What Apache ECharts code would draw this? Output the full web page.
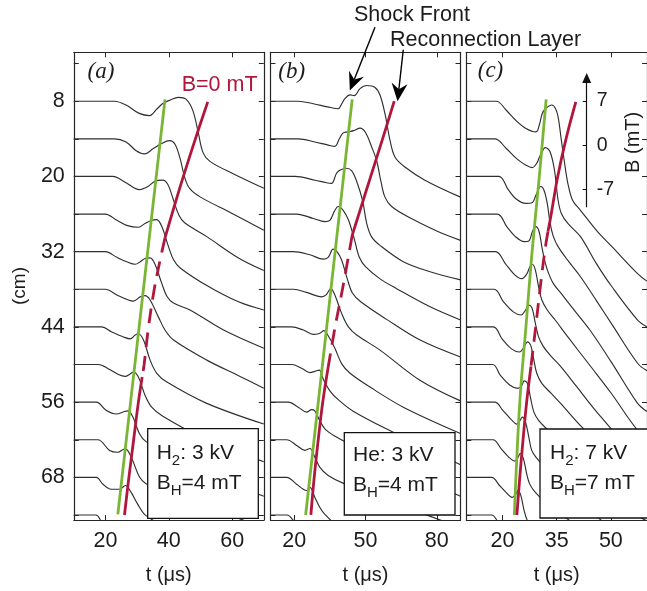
<!DOCTYPE html>
<html><head><meta charset="utf-8">
<script src="https://cdn.jsdelivr.net/npm/echarts@6/dist/echarts.min.js"></script>
<style>html,body{margin:0;padding:0;background:#fff}#c{width:647px;height:591px}</style>
</head><body><div id="c"></div>
<script>
// ---------- data ----------
const traceBaselines = [8,14,20,26,32,38,44,50,56,62,68,74];   // cm
const yTickValues = [2,8,14,20,26,32,38,44,50,56,62,68,74];
const yLabelValues = [8,20,32,44,56,68];
const xTicksA = [20,40,60];
const xTicksB = [20,50,80];
const xTicksC = [20,35,50];
const insetTicks = [-7,0,7];

// each trace: [t (us), B (mT)]
const tracesA = [
 [[10,0],[22.8,0],[26.5,-0.6],[30.5,-1.9],[33.9,-2.3],[36.3,-1.2],[38.3,-0.3],[40.5,0.2],[43,0.6],[45.5,0.3],[47.6,-1.5],[49.3,-5],[50.8,-8.2],[53,-9.6],[60,-11.5],[70,-13.9]],
 [[10,0],[22.8,0],[26.5,-0.5],[29.7,-1.9],[32.4,-2.4],[35,-1.6],[37.6,-0.8],[40.2,-0.3],[42,-0.9],[43.6,-3.2],[45.1,-6.3],[46.7,-8],[50,-9.3],[60,-11.9],[70,-14.6]],
 [[10,0],[22.3,0],[26.5,-1.0],[30.7,-2.1],[33.4,-1.6],[35.5,-0.8],[38.1,-0.6],[39.7,-1.3],[41.5,-3.8],[43.2,-6.2],[45,-7.4],[52,-9.6],[62,-13],[70,-15.0]],
 [[10,0],[19.9,0],[23.6,-1.0],[26.7,-1.8],[30.4,-2.1],[32.5,-1.5],[34.6,-1.0],[36.2,-0.9],[37.8,-2.0],[39.9,-5.2],[41.5,-7.3],[43.6,-8.6],[52,-11.4],[62,-14],[70,-15.3]],
 [[10,0],[19.9,0],[23.6,-0.9],[26.7,-1.6],[29.4,-2.0],[31,-1.6],[32.5,-1.1],[34.1,-1.0],[35.7,-2.1],[37.6,-4.8],[39.5,-7.2],[41.5,-8.2],[46.7,-9.3],[57.3,-12.5],[70,-15.4]],
 [[10,0],[19.9,0],[23.6,-0.9],[26.7,-1.6],[28.8,-1.9],[31,-1.2],[32.5,-1.0],[34.1,-1.7],[36.7,-4.4],[38.8,-6.5],[41.5,-8.1],[52,-11.3],[62.5,-13.9],[70,-15.8]],
 [[10,0],[18.8,0],[22,-0.8],[25.7,-1.6],[27.8,-1.9],[29.4,-1.3],[30.4,-1.1],[32,-2.1],[34.1,-5.3],[36.2,-7.4],[39.4,-8.8],[52,-12.2],[70,-15.5]],
 [[10,0],[17.8,0],[21,-0.7],[24.1,-1.6],[26.2,-1.9],[27.8,-1.5],[28.8,-1.2],[30.4,-2.0],[32.5,-4.9],[34.6,-6.8],[38,-8.2],[50,-11.5],[70,-15.5]],
 [[10,0],[17.1,0],[20.2,-1.3],[23.4,-1.9],[26,-1.5],[27.1,-1.4],[28.6,-2.3],[30.7,-5.0],[32.8,-6.3],[39.2,-7.9],[49.7,-10.9],[70,-15]],
 [[10,0],[17.6,0],[21.3,-1.7],[23.9,-2.0],[26,-1.5],[27,-1.7],[28.6,-3.3],[30.7,-5.9],[32.8,-7],[40,-8.5],[70,-14]],
 [[10,0],[17.1,0],[19.2,-1.1],[21.8,-1.9],[24.4,-1.9],[26.3,-1.3],[28.1,-2.4],[30.2,-4.3],[32.8,-6.1],[40,-8],[70,-13]],
 [[10,0],[17,0],[19,-1.2],[22,-2],[30,-4]]
];
const tracesB = [
 [[10,0],[21.7,0],[28,-0.4],[34,-0.9],[38.5,-1.2],[40,-0.4],[41.3,0.4],[43.5,1.0],[45.3,0.9],[47.7,2.0],[50.5,2.5],[54,2.2],[56.1,1.0],[58.2,-2],[60.3,-6.2],[62.4,-8.9],[66.6,-10.5],[75,-12.6],[90,-15.3]],
 [[10,0],[21.7,0],[28.7,-0.5],[34.3,-1.0],[37.1,-1.2],[39,0],[40.5,0.9],[42.5,1.1],[45,1.3],[47.7,1.7],[50,1.0],[52.6,-1.3],[54.7,-3.5],[56.5,-6.8],[58.2,-9.3],[61,-10.8],[68.7,-12.6],[80,-14.7],[90,-16.2]],
 [[10,0],[20.3,0],[28.7,-0.6],[33.6,-1.0],[35.7,-1.1],[37.8,0.5],[39.2,1.0],[42,1.3],[44.2,0.9],[46.3,-0.8],[48.8,-3.9],[50.5,-7.5],[52.5,-9.6],[56.1,-11.0],[65.9,-13.6],[77.2,-15.2],[90,-16.5]],
 [[10,0],[21,0],[28,-0.7],[32.9,-1.2],[35,-1.0],[37.1,0.6],[38.5,1.2],[40.6,0.6],[42.8,-0.9],[45.3,-4],[47.4,-6.9],[50,-8.4],[56,-10.3],[63.1,-11.9],[77.2,-14.8],[90,-16.9]],
 [[10,0],[19.6,0],[26.6,-0.5],[32.2,-1.2],[34.3,-0.9],[36.4,0.4],[38,0],[39.9,-1.3],[42.3,-4.3],[44.5,-6.6],[48,-8],[58.9,-10.8],[73,-14.1],[90,-16.8]],
 [[10,0],[19.6,0],[25.2,-0.5],[31.5,-1.2],[33.4,-0.9],[35.4,0.1],[37.1,-0.9],[39.9,-3.8],[42.8,-6],[46.3,-7.3],[56.1,-9.7],[72.9,-14.5],[90,-17.8]],
 [[10,0],[18.9,0],[23.8,-0.5],[28,-1.2],[30.8,-1.0],[32.5,-0.6],[33.8,-1.1],[37.1,-3.4],[40,-5.9],[43.5,-7.4],[51.9,-9.6],[65.9,-12.8],[90,-17]],
 [[10,0],[18.9,0],[23.1,-0.6],[26.6,-1.3],[28.7,-1.1],[30.5,-0.9],[32.2,-2.3],[35,-4.2],[38.5,-5.6],[45,-7.5],[60,-10.5],[90,-16]],
 [[10,0],[17.5,0],[21.7,-0.8],[25.2,-1.6],[27.3,-1.2],[28.5,-1.3],[30.8,-3.0],[33,-4.3],[37,-5.4],[45,-7],[60,-10],[90,-15]],
 [[10,0],[16.8,0],[21,-0.9],[24.5,-1.7],[26.6,-1.4],[28.7,-2.8],[30.8,-4.4],[34.3,-5.7],[41,-7],[90,-14]],
 [[10,0],[16.8,0],[21,-1.1],[23.8,-1.9],[25.2,-2.1],[26.6,-1.6],[28.7,-3.2],[30.8,-4.8],[32.9,-5.9],[38,-7.5],[90,-14]],
 [[10,0],[17,0],[20,-1],[24,-2],[30,-4]]
];
const tracesC = [
 [[10,0],[18.3,0],[21,-1.4],[23.6,-3.0],[26.4,-4.3],[29.3,-4.9],[30.2,-3.8],[31,-2.0],[31.9,-1.2],[33.7,-0.6],[34.7,-1.2],[35.4,-2.5],[36.3,-6.2],[37.2,-9.9],[38.1,-13.1],[39.4,-15.8],[41.6,-17.4],[46,-20.6],[50.3,-23.2],[57.4,-27.5],[60,-28.7]],
 [[10,0],[17.9,0],[21,-1.5],[24,-3.2],[26.5,-4.2],[28.2,-4.6],[29.5,-3.9],[30.4,-2.7],[31.9,-1.4],[33.2,-2.1],[34.4,-5],[35.4,-9.8],[36.3,-11.9],[38.1,-13.5],[41.6,-15.6],[46,-19.9],[50.3,-23.6],[57.4,-28.9],[60,-30]],
 [[10,0],[19,0],[21.6,-2.1],[23.8,-3.6],[26.5,-4.3],[28.2,-4.2],[29.4,-2.8],[30.6,-1.6],[31.5,-2.2],[32.4,-4.3],[33.2,-7.5],[34.1,-9.6],[35.4,-11.2],[38.1,-13.4],[41.6,-16],[46,-19.8],[50.3,-23.6],[57.4,-29.8],[60,-31]],
 [[10,0],[18.6,0],[21.2,-2.0],[23.8,-3.7],[26,-4.4],[27.3,-4.3],[28.3,-2.8],[29.2,-2.0],[30.1,-2.7],[31,-5.5],[31.9,-7.9],[32.8,-9.5],[34.1,-11.1],[36.3,-12.7],[39.8,-15.3],[44.2,-18.5],[50,-23.5],[57.4,-30.2],[60,-31.5]],
 [[10,0],[18.1,0],[20.8,-1.9],[23.4,-3.7],[25.4,-4.3],[26.7,-3.6],[27.6,-2.4],[28.3,-2.0],[29.1,-2.9],[30,-5.6],[30.9,-7.7],[32.4,-9.3],[34.6,-10.9],[38.1,-13.6],[44,-18],[50,-22.5],[57.4,-28.5],[60,-29.5]],
 [[10,0],[17.7,0],[20.3,-2.0],[23,-3.6],[25.2,-4.1],[26.4,-3.3],[27.3,-2.5],[28.2,-3.0],[29.1,-5.4],[30,-7.6],[31.3,-9.1],[33.5,-10.7],[36.1,-12.3],[40.5,-15.5],[46,-19.5],[57.4,-27],[60,-28]],
 [[10,0],[17.5,0],[19.9,-1.9],[22.5,-3.5],[24.7,-4.0],[26,-3.2],[26.9,-2.4],[27.8,-2.9],[28.7,-5.3],[29.5,-7.4],[30.9,-9],[33.5,-10.6],[36.1,-12.2],[42,-16],[57.4,-25],[60,-26]],
 [[10,0],[17.3,0],[19.4,-1.7],[22.1,-3.3],[24.3,-3.8],[25.4,-3.3],[26,-2.6],[26.9,-3],[27.8,-5.4],[28.7,-7.6],[30,-8.9],[32.5,-10.4],[36,-12.3],[42,-15.5],[57.4,-24],[60,-25]],
 [[10,0],[17.9,0],[20.1,-1.3],[22.3,-2.7],[24,-3.5],[24.9,-2.9],[25.5,-2.4],[26.4,-3.2],[27.3,-5.6],[28.1,-7.7],[29.3,-8.8],[32,-10.5],[40,-15],[57.4,-24],[60,-25]],
 [[10,0],[17.4,0],[19.6,-1.4],[21.8,-2.8],[23.4,-3.4],[24.3,-2.8],[24.9,-2.2],[25.8,-3.0],[26.7,-5.4],[27.5,-7.0],[28.7,-8.1],[32,-10],[60,-22]],
 [[10,0],[17,0],[19.2,-1.3],[21,-2.4],[22.7,-3.2],[23.6,-2.8],[24.3,-2.1],[25.1,-2.9],[26,-5.3],[26.9,-6.9],[28.5,-8.5],[35,-12]],
 [[10,0],[17,0],[19,-1.3],[22,-3],[25,-4]]
];

// shock front (green) and B=0 (red) lines: [t, position cm]
const greenA = [[38.8,7.7],[23.9,73.9]];
const redA = [[52.3,8.1],[48.4,14],[44.6,20],[41,26],[38.8,29.8]];
const redDashA = [[38.8,29.8],[37.4,33],[35.4,38],[33.6,44],[32.2,50],[31.6,52]];
const redLowA = [[31.6,52],[30.4,56],[28.9,62],[27.4,68],[26,74]];
const greenB = [[44.4,7.7],[24.8,74]];
const redB = [[62.1,8],[57.2,14],[52.2,20],[47.2,26],[44.4,29.4]];
const redDashB = [[44.4,29.4],[40.3,38],[37.2,44],[34.3,50.4]];
const redLowB = [[34.3,50.4],[32,56],[30.1,62],[28.4,68],[27,74]];
const greenC = [[32.1,7.7],[30.2,20],[28.2,32],[26.5,44],[24.8,56],[23.3,74]];
const redC = [[40.3,8.1],[37.6,14],[35.3,20],[33.5,26],[32.6,28.8]];
const redDashC = [[32.6,28.8],[31.7,32],[30.4,38],[29.2,44],[27.9,50.3]];
const redLowC = [[27.9,50.3],[26.7,56],[25.7,62],[24.8,68],[24,74]];

// annotation anchors in panel (b) data coordinates
const shockArrow = {from:[54,-3.8], to:[43.4,6.3]};
const reconArrow = {from:[65.9,-0.2], to:[63.5,8.0]};

// ---------- styling ----------
const FF = "'Liberation Sans', Arial, Helvetica, sans-serif";
const AX = '#262626', TX = '#1c1c1c';
const GREEN = '#7ab535', RED = '#b0173c', TRACE = '#2f2f2f';
const TOP = 52.3, HEIGHT = 467.7, WIDTH = 190;

const panels = [
 {left:73.8, xmin:10, xmax:70, ticks:xTicksA, traces:tracesA, green:greenA, red:[redA, redDashA, redLowA]},
 {left:270.5, xmin:10, xmax:90, ticks:xTicksB, traces:tracesB, green:greenB, red:[redB, redDashB, redLowB]},
 {left:466.3, xmin:10, xmax:60, ticks:xTicksC, traces:tracesC, green:greenC, red:[redC, redDashC, redLowC]}
];

const grids = [], xAxes = [], yAxes = [], series = [];
panels.forEach((p, i) => {
  grids.push({left:p.left, top:TOP, width:WIDTH, height:HEIGHT, containLabel:false});
  ['bottom','top'].forEach(pos => xAxes.push({
    type:'value', gridIndex:i, position:pos, min:p.xmin, max:p.xmax,
    axisLine:{show:true, onZero:false, lineStyle:{color:AX, width:1.2}},
    axisTick:{show:true, inside:true, length:5, customValues:p.ticks, lineStyle:{color:AX, width:1}},
    axisLabel:{show:pos==='bottom', customValues:p.ticks, fontSize:21.5, color:TX, margin:10, fontFamily:FF},
    splitLine:{show:false},
    name: pos==='bottom' ? 't (\u03bcs)' : '', nameLocation:'middle', nameGap:45,
    nameTextStyle:{fontSize:20, color:TX, fontFamily:FF}
  }));
  ['left','right'].forEach(pos => yAxes.push({
    type:'value', gridIndex:i, position:pos, inverse:true, min:0.2, max:74.8,
    axisLine:{show:true, onZero:false, lineStyle:{color:AX, width:1.2}},
    axisTick:{show:true, inside:true, length:5, customValues:yTickValues, lineStyle:{color:AX, width:1}},
    axisLabel:{show:(i===0 && pos==='left'), customValues:yLabelValues, fontSize:21.5, color:TX, margin:9, fontFamily:FF},
    splitLine:{show:false}
  }));
  const xi = 2*i, yi = 2*i;
  p.traces.forEach((tr, k) => {
    const base = traceBaselines[k];
    series.push({type:'line', xAxisIndex:xi, yAxisIndex:yi, data:tr.map(d => [d[0], base - d[1]]),
      showSymbol:false, symbol:'none', smooth:0.35, silent:true, z:2,
      lineStyle:{color:TRACE, width:1.15}});
  });
  series.push({type:'line', xAxisIndex:xi, yAxisIndex:yi, data:p.green, showSymbol:false, symbol:'none',
    smooth:0.4, silent:true, z:3, lineStyle:{color:GREEN, width:2.8}});
  p.red.forEach((seg, s) => series.push({type:'line', xAxisIndex:xi, yAxisIndex:yi, data:seg,
    showSymbol:false, symbol:'none', smooth:0.4, silent:true, z:3,
    lineStyle:{color:RED, width:2.8, type: s===1 ? [15,9] : 'solid', cap:'butt'}}));
});

// inset B scale in panel (c)
grids.push({left:586.7, top:78, width:1, height:128.7});
xAxes.push({type:'value', gridIndex:3, show:false, min:0, max:1});
yAxes.push({type:'value', gridIndex:3, position:'right', min:-9.75, max:10.65,
  axisLine:{show:true, lineStyle:{color:'#111', width:1.2}, symbol:['none','triangle'], symbolSize:[9,10]},
  axisTick:{show:true, inside:true, length:4, customValues:insetTicks, lineStyle:{color:'#111'}},
  axisLabel:{show:true, customValues:insetTicks, fontSize:19.5, color:TX, margin:9, fontFamily:FF},
  splitLine:{show:false},
  name:'B (mT)', nameLocation:'middle', nameRotate:90, nameGap:36,
  nameTextStyle:{fontSize:20, color:TX, fontFamily:FF}});

const rich = {
  n:{fontSize:21, lineHeight:30, fontFamily:FF, fill:TX},
  s:{fontSize:15, lineHeight:8, verticalAlign:'bottom', fontFamily:FF, fill:TX}
};
const SERIF = "'Liberation Serif', 'DejaVu Serif', serif";
const baseGraphic = [
  {type:'text', x:20, y:286, rotation:Math.PI/2, style:{text:'(cm)', fontSize:19, fontFamily:FF, fill:TX, align:'center', verticalAlign:'middle'}},
  {type:'text', x:101, y:72, style:{text:'(a)', fontSize:23, fontStyle:'italic', fontFamily:SERIF, fill:TX, align:'center', verticalAlign:'middle'}},
  {type:'text', x:291.7, y:72, style:{text:'(b)', fontSize:23, fontStyle:'italic', fontFamily:SERIF, fill:TX, align:'center', verticalAlign:'middle'}},
  {type:'text', x:490.5, y:71, style:{text:'(c)', fontSize:23, fontStyle:'italic', fontFamily:SERIF, fill:TX, align:'center', verticalAlign:'middle'}},
  {type:'text', x:181.7, y:85, style:{text:'B=0 mT', fontSize:21.5, fontFamily:FF, fill:RED, align:'left', verticalAlign:'middle'}},
  {type:'text', x:354, y:15, style:{text:'Shock Front', fontSize:21.5, fontFamily:FF, fill:TX, align:'left', verticalAlign:'middle'}},
  {type:'text', x:390, y:40, style:{text:'Reconnection Layer', fontSize:21.5, fontFamily:FF, fill:TX, align:'left', verticalAlign:'middle'}},
  {type:'rect', z:100, shape:{x:147.7, y:428.7, width:110.6, height:89.6}, style:{fill:'#fff', stroke:'#111', lineWidth:1.3}},
  {type:'text', z:101, x:156.7, y:468, style:{text:'{n|H}{s|2}{n|: 3 kV}\n{n|B}{s|H}{n|=4 mT}', rich:rich, align:'left', verticalAlign:'middle'}},
  {type:'rect', z:100, shape:{x:344.3, y:432.7, width:110.7, height:82.3}, style:{fill:'#fff', stroke:'#111', lineWidth:1.3}},
  {type:'text', z:101, x:353, y:470, style:{text:'{n|He: 3 kV}\n{n|B}{s|H}{n|=4 mT}', rich:rich, align:'left', verticalAlign:'middle'}},
  {type:'rect', z:100, shape:{x:540, y:429, width:130, height:89}, style:{fill:'#fff', stroke:'#111', lineWidth:1.3}},
  {type:'text', z:101, x:550, y:468, style:{text:'{n|H}{s|2}{n|: 7 kV}\n{n|B}{s|H}{n|=7 mT}', rich:rich, align:'left', verticalAlign:'middle'}}
];

const chart = echarts.init(document.getElementById('c'), null, {renderer:'canvas'});
chart.setOption({
  animation:false, backgroundColor:'#fff',
  grid:grids, xAxis:xAxes, yAxis:yAxes, series:series, graphic:baseGraphic
});

function arrowElems(a) {
  const p0 = chart.convertToPixel({xAxisIndex:2, yAxisIndex:2}, a.from);
  const p1 = chart.convertToPixel({xAxisIndex:2, yAxisIndex:2}, a.to);
  const dx = p1[0]-p0[0], dy = p1[1]-p0[1], L = Math.hypot(dx,dy);
  const ux = dx/L, uy = dy/L, nx = -uy, ny = ux;
  const hl = 18, hw = 8, notch = 12;
  const b1 = [p1[0]-ux*hl+nx*hw, p1[1]-uy*hl+ny*hw];
  const b2 = [p1[0]-ux*hl-nx*hw, p1[1]-uy*hl-ny*hw];
  const nb = [p1[0]-ux*notch, p1[1]-uy*notch];
  return [
    {type:'line', z:110, shape:{x1:p0[0], y1:p0[1], x2:nb[0], y2:nb[1]}, style:{stroke:'#000', lineWidth:1.4}},
    {type:'polygon', z:110, shape:{points:[p1, b1, nb, b2]}, style:{fill:'#000'}}
  ];
}
chart.setOption({graphic: baseGraphic.concat(arrowElems(shockArrow), arrowElems(reconArrow))});
</script>
</body></html>
